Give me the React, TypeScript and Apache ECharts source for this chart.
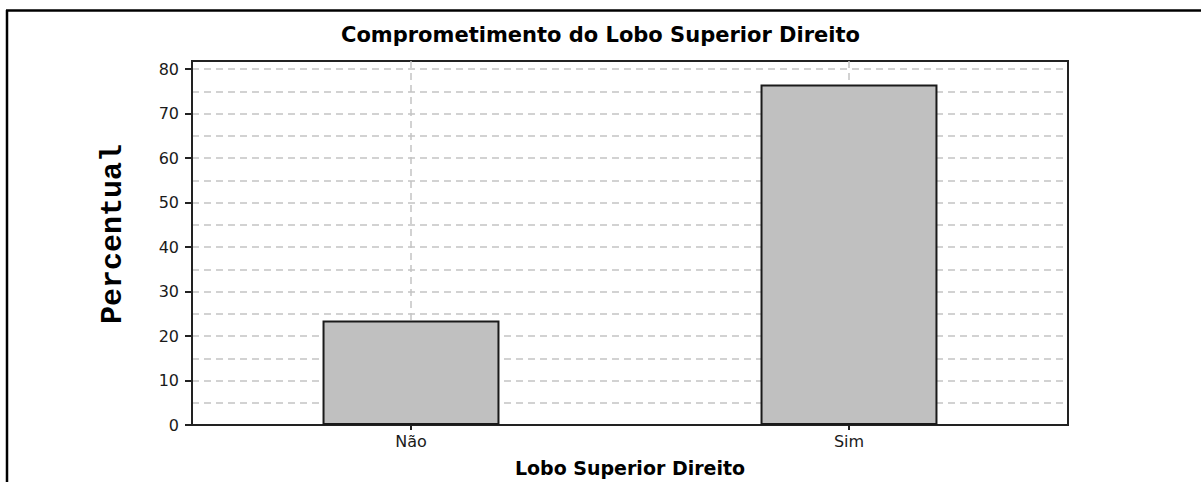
import React, { useEffect, useRef } from "react";
import * as echarts from "echarts";

const categories = ["Não", "Sim"];
const percentValues = [23.5, 76.5];
const yTicks = [0, 10, 20, 30, 40, 50, 60, 70, 80];
const yMax = 81.8;
const gridStep = 5;

const titleText = "Comprometimento do Lobo Superior Direito";
const xName = "Lobo Superior Direito";
const yName = "Percentual";

export default function App() {
  const ref = useRef<HTMLDivElement>(null);
  useEffect(() => {
    if (!ref.current) return;
    const chart = echarts.init(ref.current, null, { renderer: "svg" });
    const dash = { color: "#c4c4c4", type: [7, 5] as any, width: 1.5 };
    chart.setOption({
      animation: false,
      backgroundColor: "#ffffff",
      title: {
        text: titleText,
        left: "center",
        top: 19,
        textStyle: {
          fontFamily: "DejaVu Sans",
          fontWeight: "bold",
          fontSize: 21,
          color: "#000",
        },
      },
      graphic: [
        {
          type: "line",
          shape: { x1: 6, y1: 10.5, x2: 1201, y2: 10.5 },
          style: { stroke: "#000", lineWidth: 2.5 },
        },
        {
          type: "line",
          shape: { x1: 7, y1: 10, x2: 7, y2: 482 },
          style: { stroke: "#000", lineWidth: 2.5 },
        },
      ],
      grid: {
        left: 192,
        right: 133,
        top: 61,
        bottom: 53,
        show: true,
        borderColor: "#222",
        borderWidth: 2,
        backgroundColor: "#fff",
      },
      xAxis: {
        type: "category",
        data: categories,
        name: xName,
        nameLocation: "middle",
        nameGap: 33,
        nameTextStyle: {
          fontFamily: "DejaVu Sans",
          fontWeight: "bold",
          fontSize: 19,
          color: "#000",
          verticalAlign: "top",
        },
        axisLine: { show: true, lineStyle: { color: "#222", width: 2 } },
        axisTick: { show: true, alignWithLabel: true, length: 5, lineStyle: { color: "#222", width: 2 } },
        axisLabel: {
          margin: 8,
          fontFamily: "DejaVu Sans",
          fontSize: 16,
          color: "#1a1a1a",
        },
        splitLine: { show: true, alignWithLabel: true, lineStyle: dash },
      },
      yAxis: [
        {
          type: "value",
          min: 0,
          max: yMax,
          interval: 10,
          name: yName,
          nameLocation: "middle",
          nameGap: 64,
          nameRotate: 90,
          nameTextStyle: {
            fontFamily: "Liberation Mono",
            fontWeight: "bold",
            fontSize: 30,
            color: "#000",
            padding: [0, 0, 0, 18],
          },
          axisLine: { show: true, lineStyle: { color: "#222", width: 2 } },
          axisTick: {
            show: true,
            length: 7,
            customValues: yTicks,
            lineStyle: { color: "#222", width: 2 },
          },
          axisLabel: {
            customValues: yTicks,
            margin: 13,
            fontFamily: "DejaVu Sans",
            fontSize: 16,
            color: "#1a1a1a",
          },
          splitLine: { show: false },
          z: 3,
        },
        {
          type: "value",
          min: 0,
          max: yMax,
          interval: gridStep,
          position: "left",
          axisLine: { show: false },
          axisTick: { show: false },
          axisLabel: { show: false },
          splitLine: { show: true, showMinLine: false, showMaxLine: false, lineStyle: dash },
        },
      ],
      series: [
        {
          type: "bar",
          yAxisIndex: 0,
          data: percentValues,
          barWidth: "40.4%",
          itemStyle: { color: "#c0c0c0", borderColor: "#1a1a1a", borderWidth: 2 },
        },
      ],
    });
    return () => chart.dispose();
  }, []);
  return (
    <div
      ref={ref}
      style={{ position: "absolute", left: 0, top: 0, width: 1201, height: 482 }}
    />
  );
}
